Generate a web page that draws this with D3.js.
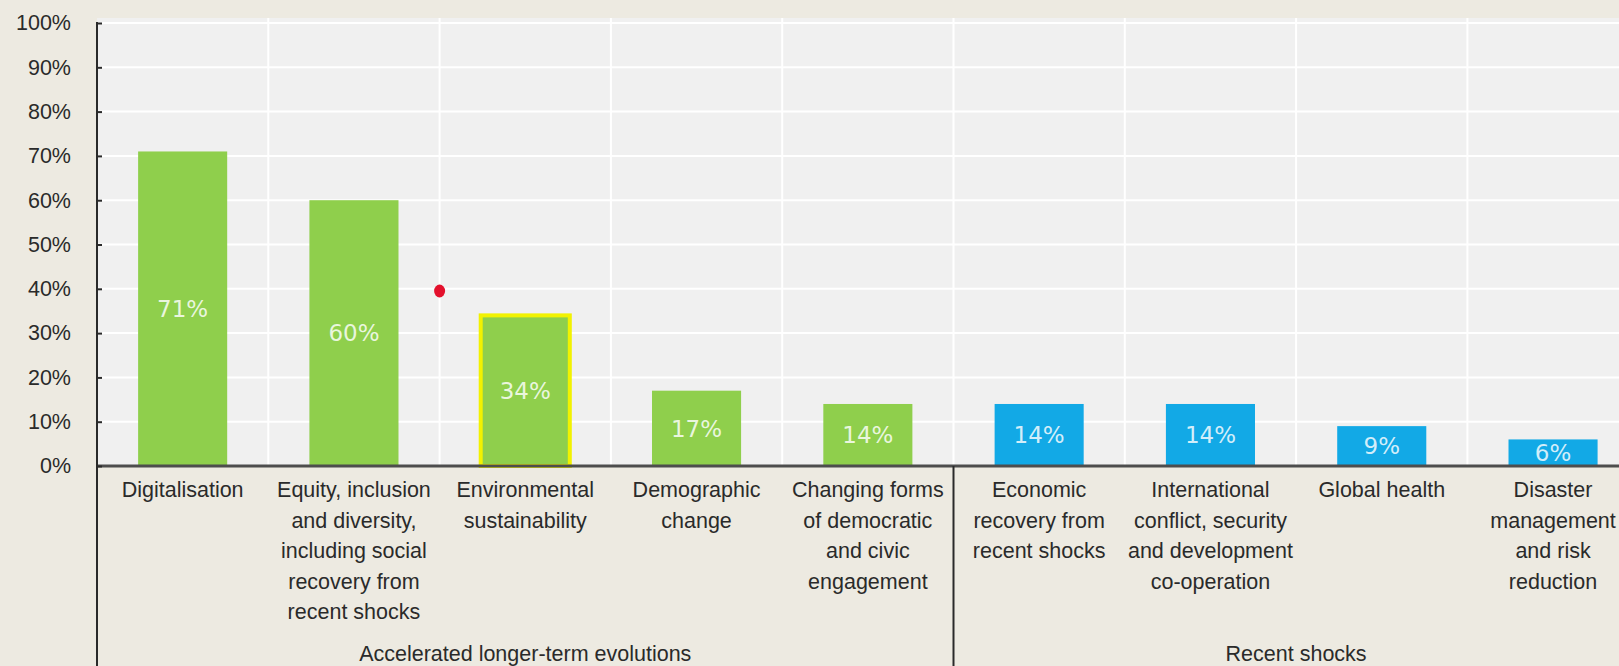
<!DOCTYPE html>
<html>
<head>
<meta charset="utf-8">
<script src="https://cdn.jsdelivr.net/npm/d3@7"></script>
<style>
  html, body { margin: 0; padding: 0; background: #edeae1; }
  svg { display: block; }
  .axis-text { font-family: "Liberation Sans", Arial, sans-serif; font-size: 21.5px; fill: #2a2a2a; }
  .value-text { font-family: "DejaVu Sans", Verdana, sans-serif; font-size: 23px; fill: #ffffff; fill-opacity: 0.82; }
</style>
</head>
<body>
<svg id="chart" width="1619" height="666"></svg>
<script>
// Share of respondents citing each theme
const categories = [
  "Digitalisation",
  "Equity, inclusion and diversity, including social recovery from recent shocks",
  "Environmental sustainability",
  "Demographic change",
  "Changing forms of democratic and civic engagement",
  "Economic recovery from recent shocks",
  "International conflict, security and development co-operation",
  "Global health",
  "Disaster management and risk reduction"
];
const categoryLines = [
  ["Digitalisation"],
  ["Equity, inclusion", "and diversity,", "including social", "recovery from", "recent shocks"],
  ["Environmental", "sustainability"],
  ["Demographic", "change"],
  ["Changing forms", "of democratic", "and civic", "engagement"],
  ["Economic", "recovery from", "recent shocks"],
  ["International", "conflict, security", "and development", "co-operation"],
  ["Global health"],
  ["Disaster", "management", "and risk", "reduction"]
];
const values = [71, 60, 34, 17, 14, 14, 14, 9, 6];
const groupOf = [0, 0, 0, 0, 0, 1, 1, 1, 1];
const groupNames = ["Accelerated longer-term evolutions", "Recent shocks"];
const highlighted = ["Environmental sustainability"];
// Marker sitting between the second and third categories
const markerValue = 39.5;
const markerAfter = "Equity, inclusion and diversity, including social recovery from recent shocks";
const yTicks = [0, 10, 20, 30, 40, 50, 60, 70, 80, 90, 100];

const W = 1619, H = 666;
const left = 97, axisY = 466, top100 = 23;
const stepW = 171.3;

const svg = d3.select("#chart");
const groupColors = ["#8fcf4c", "#12a9e6"];

const x = d3.scaleBand()
  .domain(categories)
  .range([left, left + stepW * categories.length])
  .paddingInner(0.48)
  .paddingOuter(0.24);
const y = d3.scaleLinear().domain([0, 100]).range([axisY, top100]);

// outer background
svg.append("rect").attr("width", W).attr("height", H).attr("fill", "#edeae1");

// plot area
svg.append("rect")
  .attr("x", left).attr("y", top100 - 5)
  .attr("width", W - left).attr("height", axisY - top100 + 5)
  .attr("fill", "#f0f0f0");

// horizontal gridlines
svg.append("g").selectAll("line").data(yTicks).join("line")
  .attr("x1", left).attr("x2", W)
  .attr("y1", d => y(d)).attr("y2", d => y(d))
  .attr("stroke", "#ffffff").attr("stroke-width", 2);

// vertical gridlines at category boundaries
const step = x.step();
const x0 = x.range()[0];
svg.append("g").selectAll("line").data(categories.slice(1)).join("line")
  .attr("x1", (d, i) => x0 + step * (i + 1)).attr("x2", (d, i) => x0 + step * (i + 1))
  .attr("y1", top100 - 5).attr("y2", axisY)
  .attr("stroke", "#ffffff").attr("stroke-width", 2);

// bars
svg.append("g").selectAll("rect").data(categories).join("rect")
  .attr("x", d => x(d)).attr("width", x.bandwidth())
  .attr("y", (d, i) => y(values[i]))
  .attr("height", (d, i) => y(0) - y(values[i]))
  .attr("fill", (d, i) => groupColors[groupOf[i]])
  .attr("stroke", d => highlighted.includes(d) ? "#f2f200" : "none")
  .attr("stroke-width", 4);

// value labels
svg.append("g").selectAll("text").data(categories).join("text")
  .attr("class", "value-text")
  .attr("x", d => x(d) + x.bandwidth() / 2)
  .attr("y", (d, i) => (y(values[i]) + y(0)) / 2)
  .attr("dy", "0.36em")
  .attr("text-anchor", "middle")
  .text((d, i) => values[i] + "%");

// marker point
const mIdx = categories.indexOf(markerAfter);
svg.append("ellipse")
  .attr("cx", x0 + step * (mIdx + 1))
  .attr("cy", y(markerValue))
  .attr("rx", 5.5).attr("ry", 6.5)
  .attr("fill", "#e3102c");

// x axis line
svg.append("line")
  .attr("x1", left).attr("x2", W)
  .attr("y1", axisY).attr("y2", axisY)
  .attr("stroke", "#4d4d4d").attr("stroke-width", 3);

// y axis
const yAxis = d3.axisLeft(y).tickValues(yTicks).tickSize(-5).tickPadding(26)
  .tickFormat(d => d + "%");
const gy = svg.append("g").attr("transform", `translate(${left},0)`).call(yAxis);
gy.select(".domain").remove();
gy.selectAll(".tick line").attr("stroke", "#2a2a2a").attr("stroke-width", 2);
gy.selectAll(".tick text").attr("class", "axis-text").attr("font-size", null).attr("font-family", null);
svg.append("line")
  .attr("x1", left).attr("x2", left)
  .attr("y1", top100 - 1).attr("y2", H)
  .attr("stroke", "#2a2a2a").attr("stroke-width", 2);

// group separator
const firstOfGroup2 = groupOf.indexOf(1);
svg.append("line")
  .attr("x1", x0 + step * firstOfGroup2).attr("x2", x0 + step * firstOfGroup2)
  .attr("y1", axisY).attr("y2", H)
  .attr("stroke", "#2a2a2a").attr("stroke-width", 2);

// category labels
const lineH = 30.6;
const catG = svg.append("g");
categories.forEach((c, i) => {
  const t = catG.append("text").attr("class", "axis-text")
    .attr("text-anchor", "middle")
    .attr("x", x(c) + x.bandwidth() / 2)
    .attr("y", 497);
  categoryLines[i].forEach((ln, j) => {
    t.append("tspan").attr("x", x(c) + x.bandwidth() / 2).attr("y", 497 + j * lineH).text(ln);
  });
});

// group labels
groupNames.forEach((g, gi) => {
  const idx = groupOf.map((v, i) => v === gi ? i : -1).filter(i => i >= 0);
  const a = x0 + step * idx[0];
  const b = x0 + step * (idx[idx.length - 1] + 1);
  svg.append("text").attr("class", "axis-text")
    .attr("text-anchor", "middle")
    .attr("x", (a + b) / 2).attr("y", 661)
    .text(g);
});
</script>
</body>
</html>
